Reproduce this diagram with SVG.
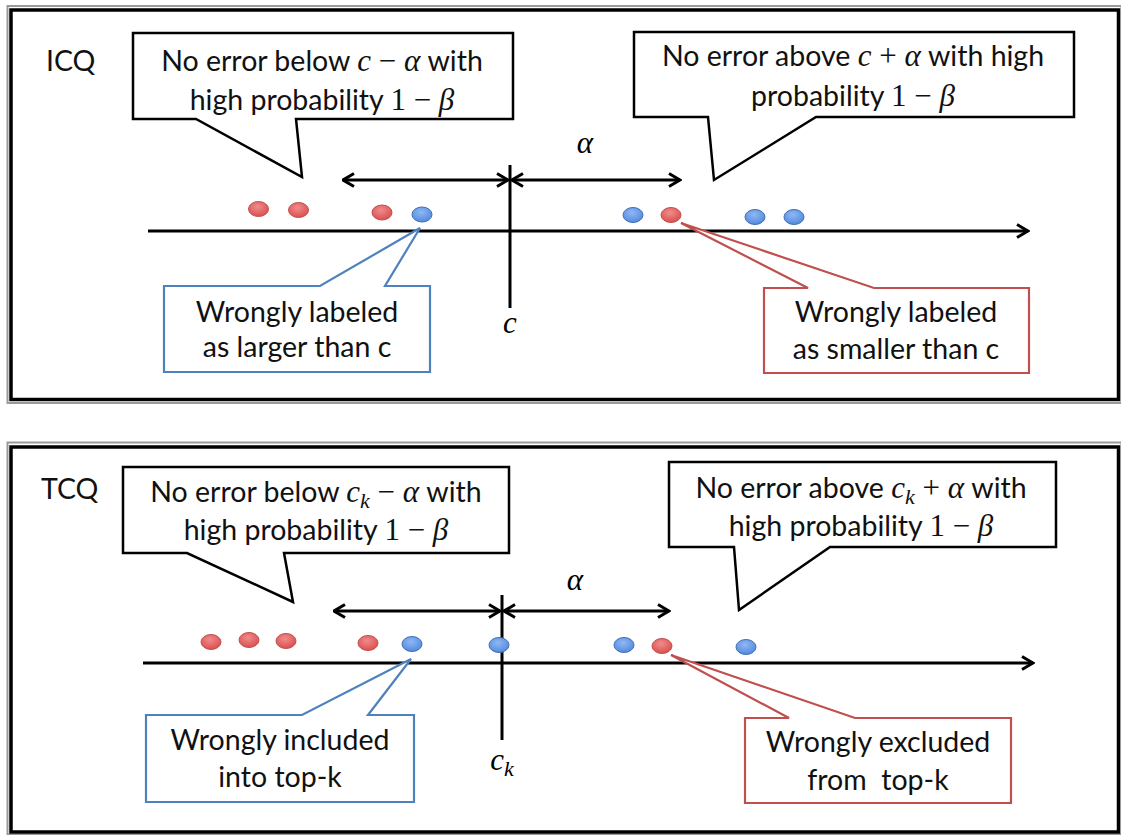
<svg xmlns="http://www.w3.org/2000/svg" width="1121" height="835" viewBox="0 0 1121 835">
<defs>
<style>
.t{font-family:Lato,"Liberation Sans",sans-serif;font-size:28.5px;fill:#111}
.mi{font-family:"Liberation Serif","DejaVu Serif",serif;font-style:italic;font-size:31px}
.mo{font-family:"Liberation Serif","DejaVu Serif",serif;font-size:31px}
.sub{font-family:"Liberation Serif","DejaVu Serif",serif;font-style:italic;font-size:22px}
.frameO{fill:none;stroke:#9a9a9a;stroke-width:2}
.frameI{fill:none;stroke:#000;stroke-width:3.5}
.cb{fill:#fff;stroke:#000;stroke-width:2.5;stroke-linejoin:miter}
.cblue{fill:#fff;stroke:#4f81bd;stroke-width:2.2}
.cred{fill:#fff;stroke:#c0504d;stroke-width:2.2}
.ln{stroke:#000;stroke-width:3;fill:none}
.rd{fill:url(#gr);stroke:#c0504d;stroke-width:1}
.bd{fill:url(#gb);stroke:#3f6fb5;stroke-width:1}
</style>
<radialGradient id="gr" cx="0.45" cy="0.35" r="0.7">
<stop offset="0" stop-color="#f08c8c"/><stop offset="1" stop-color="#d94a4a"/>
</radialGradient>
<radialGradient id="gb" cx="0.45" cy="0.35" r="0.7">
<stop offset="0" stop-color="#8fb8f5"/><stop offset="1" stop-color="#4f86db"/>
</radialGradient>
<marker id="ah" viewBox="0 0 14 16" refX="12.5" refY="8" markerWidth="14" markerHeight="16" markerUnits="userSpaceOnUse" orient="auto-start-reverse">
<path d="M1.5,1.5 L12.5,8 L1.5,14.5" fill="none" stroke="#000" stroke-width="3"/>
</marker>
</defs>
<rect width="1121" height="835" fill="#fff"/>

<g id="frame-icq">
<rect class="frameO" x="7.5" y="6" width="1114" height="397"/>
<rect class="frameI" x="11" y="10" width="1107.5" height="389.5"/>
</g>
<g id="frame-tcq">
<rect class="frameO" x="7.5" y="442.5" width="1114" height="392"/>
<rect class="frameI" x="11" y="447" width="1107.5" height="385"/>
</g>

<g id="connectors">
<line class="ln" x1="148" y1="231" x2="1028" y2="231" marker-end="url(#ah)"/>
<line class="ln" x1="510" y1="165" x2="510" y2="308"/>
<line class="ln" x1="343" y1="180" x2="508" y2="180" marker-start="url(#ah)" marker-end="url(#ah)"/>
<line class="ln" x1="512" y1="180" x2="680" y2="180" marker-start="url(#ah)" marker-end="url(#ah)"/>
<line class="ln" x1="143" y1="663" x2="1033" y2="663" marker-end="url(#ah)"/>
<line class="ln" x1="502" y1="595" x2="502" y2="740"/>
<line class="ln" x1="334" y1="611" x2="500" y2="611" marker-start="url(#ah)" marker-end="url(#ah)"/>
<line class="ln" x1="504" y1="611" x2="669" y2="611" marker-start="url(#ah)" marker-end="url(#ah)"/>
</g>

<g id="dots-icq">
<ellipse class="rd" cx="258.5" cy="209" rx="10" ry="7.5"/>
<ellipse class="rd" cx="298.5" cy="210" rx="10" ry="7.5"/>
<ellipse class="rd" cx="382" cy="212.5" rx="10" ry="7.5"/>
<ellipse class="bd" cx="422" cy="214.5" rx="10" ry="7.5"/>
<ellipse class="bd" cx="633" cy="215" rx="10" ry="7.5"/>
<ellipse class="rd" cx="671" cy="215" rx="10" ry="7.5"/>
<ellipse class="bd" cx="755" cy="217" rx="10" ry="7.5"/>
<ellipse class="bd" cx="794" cy="217" rx="10" ry="7.5"/>
</g>
<g id="dots-tcq">
<ellipse class="rd" cx="211" cy="642" rx="10" ry="7.5"/>
<ellipse class="rd" cx="249" cy="640" rx="10" ry="7.5"/>
<ellipse class="rd" cx="286" cy="641" rx="10" ry="7.5"/>
<ellipse class="rd" cx="368" cy="643" rx="10" ry="7.5"/>
<ellipse class="bd" cx="412" cy="644" rx="10" ry="7.5"/>
<ellipse class="bd" cx="499" cy="645" rx="10" ry="7.5"/>
<ellipse class="bd" cx="624" cy="645" rx="10" ry="7.5"/>
<ellipse class="rd" cx="662" cy="646" rx="10" ry="7.5"/>
<ellipse class="bd" cx="746" cy="647" rx="10" ry="7.5"/>
</g>

<g id="labels">
<text class="t" x="46" y="71">ICQ</text>
<text class="t" x="41" y="499">TCQ</text>
<text class="mi" x="585" y="153" text-anchor="middle">α</text>
<text class="mi" x="510" y="333" text-anchor="middle">c</text>
<text class="mi" x="575" y="590" text-anchor="middle">α</text>
<text x="502" y="770" text-anchor="middle"><tspan class="mi">c</tspan><tspan class="sub" dy="6">k</tspan></text>
</g>

<g id="callout-below-c">
<path class="cb" d="M133,33 H513 V119 H296 L302,177 L196,119 H133 Z"/>
<text class="t" x="322" y="71" text-anchor="middle">No error below <tspan class="mi">c</tspan><tspan class="mo"> − </tspan><tspan class="mi">α</tspan> with</text>
<text class="t" x="322" y="110" text-anchor="middle">high probability <tspan class="mo">1 − </tspan><tspan class="mi">β</tspan></text>
</g>
<g id="callout-above-c">
<path class="cb" d="M634,32 H1074 V117 H816 L714,180 L708,117 H634 Z"/>
<text class="t" x="853" y="66" text-anchor="middle">No error above <tspan class="mi">c</tspan><tspan class="mo"> + </tspan><tspan class="mi">α</tspan> with high</text>
<text class="t" x="853" y="106" text-anchor="middle">probability <tspan class="mo">1 − </tspan><tspan class="mi">β</tspan></text>
</g>
<g id="callout-larger">
<path class="cblue" d="M164,286 H320 L420,228 L385,286 H430 V372 H164 Z"/>
<text class="t" x="297" y="322" text-anchor="middle">Wrongly labeled</text>
<text class="t" x="297" y="357" text-anchor="middle">as larger than c</text>
</g>
<g id="callout-smaller">
<path class="cred" d="M764,288 H808 L681,223 L874,288 H1029 V373 H764 Z"/>
<text class="t" x="896" y="322" text-anchor="middle">Wrongly labeled</text>
<text class="t" x="896" y="359" text-anchor="middle">as smaller than c</text>
</g>
<g id="callout-below-ck">
<path class="cb" d="M123,467 H509 V553 H284 L293,602 L187,553 H123 Z"/>
<text class="t" x="316" y="502" text-anchor="middle">No error below <tspan class="mi">c</tspan><tspan class="sub" dy="6">k</tspan><tspan class="mo" dy="-6"> − </tspan><tspan class="mi">α</tspan> with</text>
<text class="t" x="316" y="540" text-anchor="middle">high probability <tspan class="mo">1 − </tspan><tspan class="mi">β</tspan></text>
</g>
<g id="callout-above-ck">
<path class="cb" d="M669,462 H1056 V547 H830 L739,610 L734,547 H669 Z"/>
<text class="t" x="861" y="498" text-anchor="middle">No error above <tspan class="mi">c</tspan><tspan class="sub" dy="6">k</tspan><tspan class="mo" dy="-6"> + </tspan><tspan class="mi">α</tspan> with</text>
<text class="t" x="861" y="536" text-anchor="middle">high probability <tspan class="mo">1 − </tspan><tspan class="mi">β</tspan></text>
</g>
<g id="callout-included">
<path class="cblue" d="M146,715 H302 L411,659 L368,715 H414 V802 H146 Z"/>
<text class="t" x="280" y="750" text-anchor="middle">Wrongly included</text>
<text class="t" x="280" y="787" text-anchor="middle">into top-k</text>
</g>
<g id="callout-excluded">
<path class="cred" d="M745,718 H789 L671,655 L855,718 H1011 V803 H745 Z"/>
<text class="t" x="878" y="752" text-anchor="middle">Wrongly excluded</text>
<text class="t" x="878" y="790" text-anchor="middle">from&#160; top-k</text>
</g>
</svg>
